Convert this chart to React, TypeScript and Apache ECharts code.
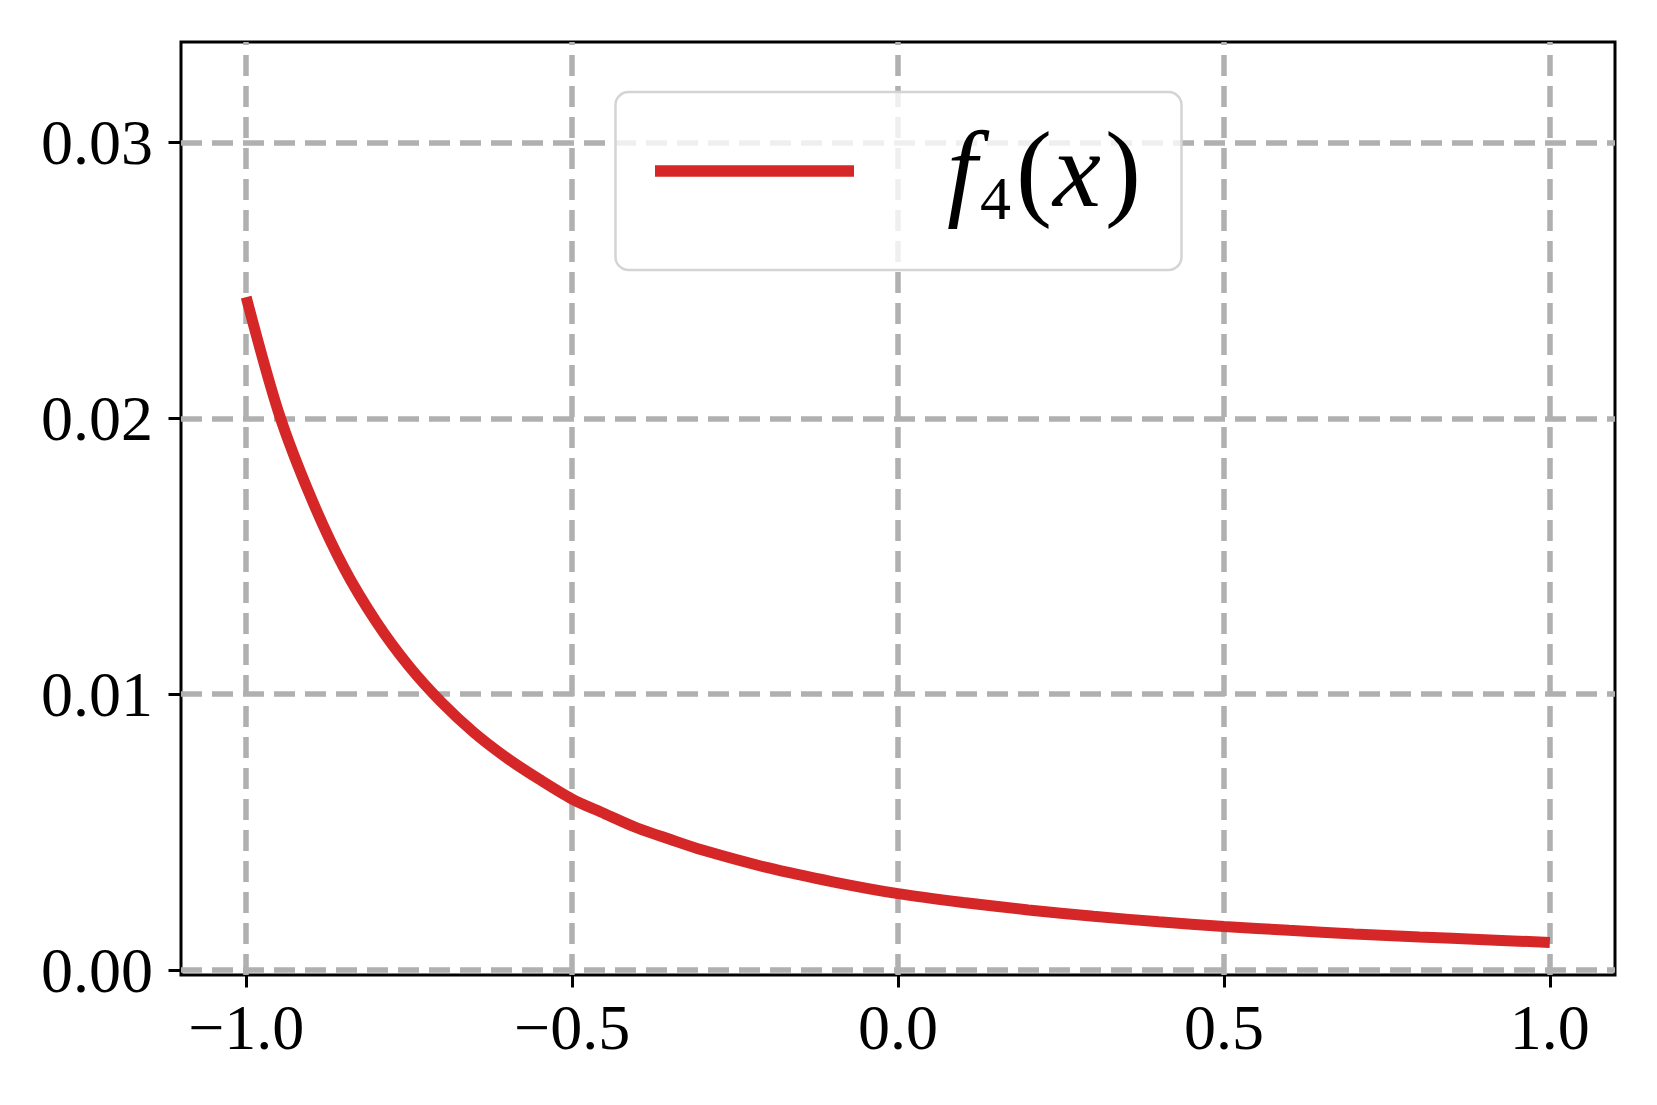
import React, { useEffect, useRef } from "react";
import * as echarts from "echarts";

// Values
const xValues = [-1.0, -0.95, -0.9, -0.85, -0.8, -0.75, -0.7, -0.65, -0.6, -0.55, -0.5, -0.45, -0.4, -0.35, -0.3, -0.2, -0.1, 0.0, 0.1, 0.2, 0.3, 0.4, 0.5, 0.6, 0.7, 0.8, 0.9, 1.0];
const f4Values = [0.0244, 0.0202, 0.0171, 0.01458, 0.01261, 0.01101, 0.0097, 0.0086, 0.00769, 0.00691, 0.0062, 0.00567, 0.00515, 0.00474, 0.00435, 0.00371, 0.0032, 0.00277, 0.00245, 0.00218, 0.00195, 0.00175, 0.00158, 0.00144, 0.00131, 0.0012, 0.0011, 0.001];
const xTicks = [-1, -0.5, 0, 0.5, 1];
const yTicks = [0, 0.01, 0.02, 0.03];
const seriesName = "f₄(x)";

const RED = "#d62728";
const GRIDGRAY = "#b0b0b0";
const FONT = "'Liberation Serif', 'DejaVu Serif', serif";

export default function App() {
  const ref = useRef<HTMLDivElement>(null);

  useEffect(() => {
    if (!ref.current) return;
    const chart = echarts.init(ref.current, null, { renderer: "svg" });

    const fmtX = (v: number) => (v < 0 ? "\u2212" : "") + Math.abs(v).toFixed(1);
    const fmtY = (v: number) => v.toFixed(2);

    const gridLines = [
      ...xTicks.map((v) => ({ xAxis: v })),
      ...yTicks.map((v) => ({ yAxis: v })),
    ];

    const legendText = (text: string, x: number, y: number, size: number, italic: boolean) => ({
      type: "text",
      x,
      y,
      z: 101,
      style: {
        text,
        fontFamily: FONT,
        fontStyle: italic ? "italic" : "normal",
        fontSize: size,
        fill: "#000",
        align: "left",
        verticalAlign: "middle",
      },
    });

    const option: any = {
      animation: false,
      backgroundColor: "#ffffff",
      grid: {
        left: 181,
        top: 42,
        right: 42,
        bottom: 130,
        show: true,
        borderColor: "#000000",
        borderWidth: 3,
        backgroundColor: "transparent",
        containLabel: false,
      },
      xAxis: {
        type: "value",
        position: "bottom",
        min: -1.1,
        max: 1.1,
        axisLine: { show: false, onZero: false },
        splitLine: { show: false },
        axisTick: {
          show: true,
          customValues: xTicks,
          inside: false,
          length: 12.5,
          lineStyle: { color: "#000", width: 3 },
        },
        axisLabel: {
          show: true,
          customValues: xTicks,
          formatter: fmtX,
          fontFamily: FONT,
          fontSize: 64,
          color: "#000",
          margin: 20,
        },
      },
      yAxis: {
        type: "value",
        position: "left",
        min: -0.00018,
        max: 0.03365,
        axisLine: { show: false, onZero: false },
        splitLine: { show: false },
        axisTick: {
          show: true,
          customValues: yTicks,
          inside: false,
          length: 12.5,
          lineStyle: { color: "#000", width: 3 },
        },
        axisLabel: {
          show: true,
          customValues: yTicks,
          formatter: fmtY,
          fontFamily: FONT,
          fontSize: 64,
          color: "#000",
          margin: 28,
        },
      },
      series: [
        {
          name: "gridlines",
          type: "line",
          data: [],
          z: 1,
          silent: true,
          markLine: {
            silent: true,
            z: 1,
            symbol: ["none", "none"],
            label: { show: false },
            emphasis: { disabled: true },
            lineStyle: { color: GRIDGRAY, type: [21, 10], width: 5.5 },
            data: gridLines,
          },
        },
        {
          name: seriesName,
          type: "line",
          z: 10,
          data: xValues.map((x, i) => [x, f4Values[i]]),
          smooth: 0.3,
          showSymbol: false,
          symbol: "none",
          lineStyle: { color: RED, width: 11, cap: "butt" },
          itemStyle: { color: RED },
        },
      ],
      graphic: [
        {
          type: "group",
          z: 100,
          children: [
            {
              type: "rect",
              shape: { x: 615.5, y: 92, width: 566, height: 178, r: 13 },
              style: { fill: "rgba(255,255,255,0.8)", stroke: "#d4d4d4", lineWidth: 2.5 },
              z: 100,
            },
            {
              type: "line",
              shape: { x1: 655, y1: 171, x2: 854, y2: 171 },
              style: { stroke: RED, lineWidth: 11.5, lineCap: "butt" },
              z: 101,
            },
            legendText("f", 947, 169, 108, true),
            legendText("4", 980, 198, 62, false),
            legendText("(", 1016, 169, 108, false),
            legendText("x", 1053, 169, 108, true),
            legendText(")", 1105, 169, 108, false),
          ],
        },
      ],
    };

    chart.setOption(option);
    return () => {
      chart.dispose();
    };
  }, []);

  return (
    <div
      ref={ref}
      style={{ position: "absolute", left: 0, top: 0, width: 1657, height: 1105, background: "#fff" }}
    />
  );
}
